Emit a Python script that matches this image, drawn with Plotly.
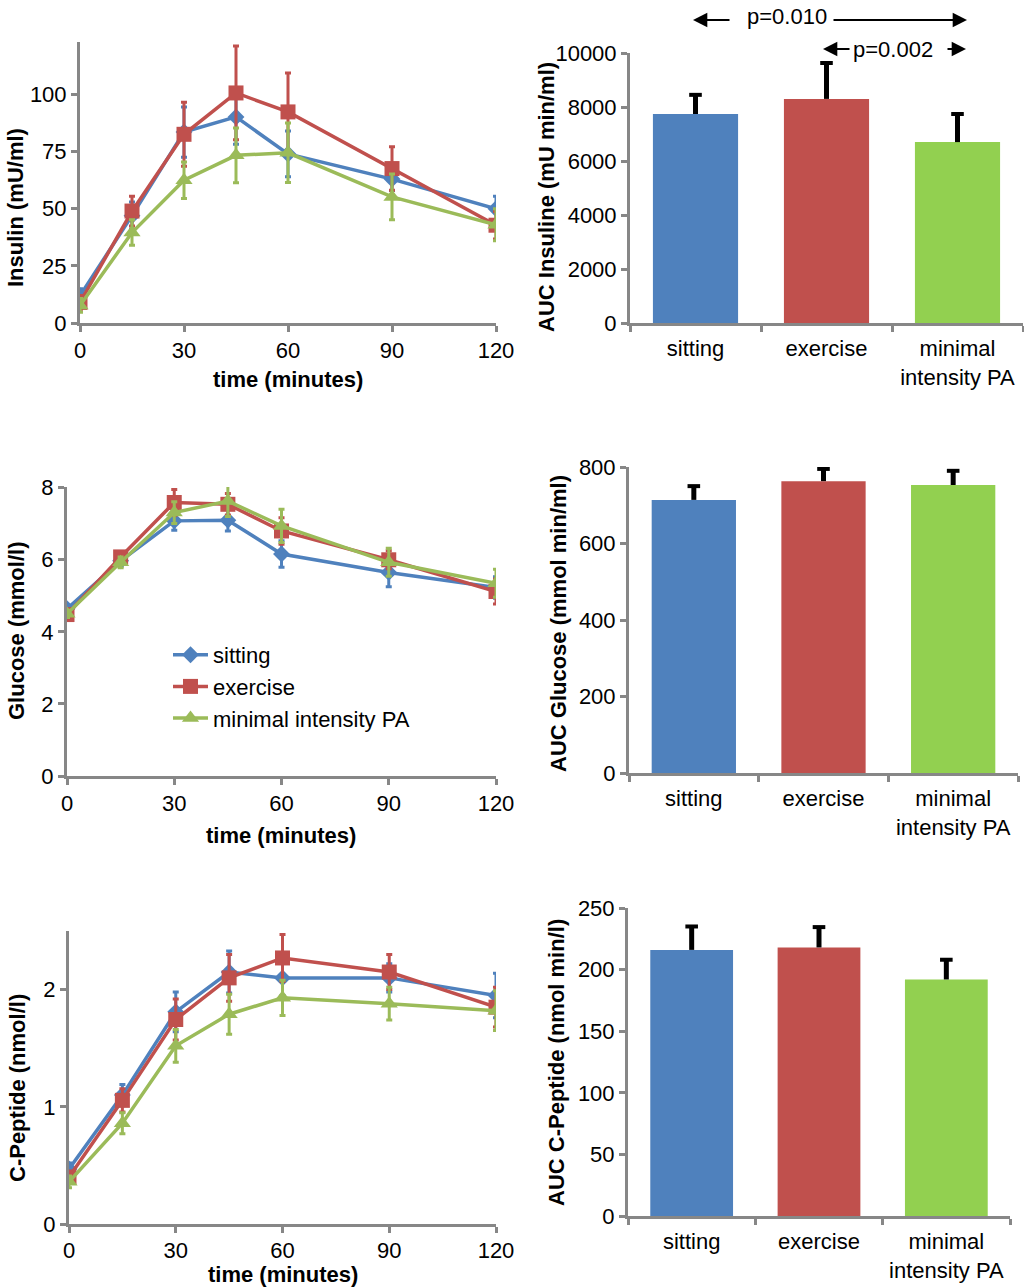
import plotly.graph_objects as go

W, H = 1024, 1288

# ---------------- data ----------------
time_min = [0, 15, 30, 45, 60, 90, 120]
series_names = ["sitting", "exercise", "minimal intensity PA"]
bar_categories = ["sitting", "exercise", "minimal<br>intensity PA"]

insulin_sitting = [12, 47, 83.6, 90.2, 74, 63, 50]
insulin_sitting_err = [3, 6, 11, 12, 10, 5, 5.5]
insulin_exercise = [9, 49, 82.6, 100.7, 92.4, 67.6, 42.8]
insulin_exercise_err = [3, 6.5, 14, 20.5, 17, 9.5, 6]
insulin_minimal = [7.7, 39.6, 62.5, 73.4, 74.5, 55.2, 43]
insulin_minimal_err = [3, 5.6, 8, 12, 13, 10, 7]

glucose_sitting = [4.64, 5.97, 7.08, 7.1, 6.16, 5.65, 5.23]
glucose_sitting_err = [0.1, 0.15, 0.26, 0.3, 0.37, 0.4, 0.3]
glucose_exercise = [4.48, 6.08, 7.59, 7.54, 6.8, 6.0, 5.12]
glucose_exercise_err = [0.1, 0.15, 0.36, 0.3, 0.37, 0.25, 0.35]
glucose_minimal = [4.5, 5.93, 7.31, 7.63, 6.94, 5.93, 5.35]
glucose_minimal_err = [0.1, 0.15, 0.3, 0.43, 0.46, 0.39, 0.39]

cpep_sitting = [0.47, 1.10, 1.81, 2.15, 2.10, 2.10, 1.95]
cpep_sitting_err = [0.05, 0.09, 0.17, 0.18, 0.15, 0.12, 0.19]
cpep_exercise = [0.40, 1.055, 1.745, 2.10, 2.27, 2.15, 1.85]
cpep_exercise_err = [0.05, 0.1, 0.175, 0.2, 0.2, 0.15, 0.17]
cpep_minimal = [0.36, 0.86, 1.52, 1.79, 1.93, 1.88, 1.82]
cpep_minimal_err = [0.05, 0.09, 0.14, 0.17, 0.15, 0.14, 0.17]

auc_insulin = [7740, 8300, 6700]
auc_insulin_err = [710, 1330, 1040]
auc_glucose = [714, 763, 753]
auc_glucose_err = [36, 32, 37]
auc_cpep = [216, 218, 192]
auc_cpep_err = [19, 16.5, 16]

insulin_ticks = [0, 25, 50, 75, 100]
time_ticks = [0, 30, 60, 90, 120]

# ---------------- styling ----------------
LINE_COLORS = ["#4F81BD", "#C0504D", "#9BBB59"]
BAR_COLORS = ["#4F81BD", "#C0504D", "#92D050"]
SYMBOLS = ["diamond", "square", "triangle-up"]
SIZES = [13, 15, 15]
AXIS_GRAY = "#878787"
FONT = "Arial, Liberation Sans, sans-serif"
TICK_SIZE = 22
TITLE_SIZE = 22


def xd(a, b):
    return [a / W, b / W]


def yd(top, bottom):
    return [1 - bottom / H, 1 - top / H]


fig = go.Figure()

line_sets = [
    ("x", "y", [insulin_sitting, insulin_exercise, insulin_minimal],
     [insulin_sitting_err, insulin_exercise_err, insulin_minimal_err], False),
    ("x3", "y3", [glucose_sitting, glucose_exercise, glucose_minimal],
     [glucose_sitting_err, glucose_exercise_err, glucose_minimal_err], True),
    ("x5", "y5", [cpep_sitting, cpep_exercise, cpep_minimal],
     [cpep_sitting_err, cpep_exercise_err, cpep_minimal_err], False),
]

for xa, ya, vals, errs, show in line_sets:
    for i in range(3):
        fig.add_trace(go.Scatter(
            x=time_min, y=vals[i], xaxis=xa, yaxis=ya,
            mode="lines+markers", name=series_names[i],
            legendgroup=series_names[i], showlegend=show,
            line=dict(color=LINE_COLORS[i], width=3.5),
            marker=dict(symbol=SYMBOLS[i], size=SIZES[i], color=LINE_COLORS[i]),
            error_y=dict(type="data", array=errs[i], visible=True,
                         color=LINE_COLORS[i], thickness=3, width=3),
        ))

bar_sets = [
    ("x2", "y2", auc_insulin, auc_insulin_err),
    ("x4", "y4", auc_glucose, auc_glucose_err),
    ("x6", "y6", auc_cpep, auc_cpep_err),
]
for xa, ya, vals, errs in bar_sets:
    fig.add_trace(go.Bar(
        x=bar_categories, y=vals, xaxis=xa, yaxis=ya, showlegend=False,
        marker=dict(color=BAR_COLORS, line=dict(width=0)),
        error_y=dict(type="data", array=errs, arrayminus=[0, 0, 0],
                     symmetric=False, color="black", thickness=5, width=0),
    ))
    # caps only at the top end of the one-sided error bars
    fig.add_trace(go.Scatter(
        x=bar_categories, y=[v + e for v, e in zip(vals, errs)],
        xaxis=xa, yaxis=ya, mode="markers", showlegend=False, hoverinfo="skip",
        marker=dict(symbol="line-ew", size=9, line=dict(color="black", width=4)),
    ))

axis_common = dict(
    showline=True, linecolor=AXIS_GRAY, linewidth=3,
    ticks="outside", ticklen=6, tickwidth=3, tickcolor=AXIS_GRAY,
    showgrid=False, zeroline=False, automargin=False,
    tickfont=dict(family=FONT, size=TICK_SIZE, color="black"),
)
bar_x_common = dict(type="category", range=[-0.5, 2.5], tickson="boundaries",
                    ticklabelstandoff=4)

layout_axes = {
    # insulin line
    "xaxis": dict(domain=xd(80, 496), anchor="y", range=[0, 120],
                  tickvals=time_ticks, **axis_common),
    "yaxis": dict(domain=yd(42, 323), anchor="x", range=[0, 123],
                  tickvals=insulin_ticks, **axis_common),
    # insulin bar
    "xaxis2": dict(domain=xd(630, 1023), anchor="y2", **bar_x_common, **axis_common),
    "yaxis2": dict(domain=yd(53, 323), anchor="x2", range=[0, 10000],
                   dtick=2000, tickformat="d", **axis_common),
    # glucose line
    "xaxis3": dict(domain=xd(67, 496), anchor="y3", range=[0, 120],
                   tickvals=time_ticks, **axis_common),
    "yaxis3": dict(domain=yd(487, 776), anchor="x3", range=[0, 8.02],
                   dtick=2, **axis_common),
    # glucose bar
    "xaxis4": dict(domain=xd(629, 1018), anchor="y4", **bar_x_common, **axis_common),
    "yaxis4": dict(domain=yd(467, 773), anchor="x4", range=[0, 800],
                   dtick=200, **axis_common),
    # c-peptide line
    "xaxis5": dict(domain=xd(69, 496), anchor="y5", range=[0, 120],
                   tickvals=time_ticks, ticklabelstandoff=-1, **axis_common),
    "yaxis5": dict(domain=yd(931, 1224), anchor="x5", range=[0, 2.5],
                   dtick=1, **axis_common),
    # c-peptide bar
    "xaxis6": dict(domain=xd(628, 1010), anchor="y6", **bar_x_common, **axis_common),
    "yaxis6": dict(domain=yd(908, 1216), anchor="x6", range=[0, 250],
                   dtick=50, **axis_common),
}

annotations = []


def title(text, cx, cy, angle=0):
    annotations.append(dict(
        text="<b>%s</b>" % text, x=cx / W, y=1 - cy / H, xref="paper", yref="paper",
        showarrow=False, textangle=angle, xanchor="center", yanchor="middle",
        font=dict(family=FONT, size=TITLE_SIZE, color="black"),
    ))


title("Insulin (mU/ml)", 16, 208, -90)
title("time (minutes)", 288, 380)
title("AUC Insuline (mU min/ml)", 546, 197, -90)
title("Glucose (mmol/l)", 17, 631, -90)
title("time (minutes)", 281, 835)
title("AUC Glucose (mmol min/ml)", 558, 624, -90)
title("C-Peptide (nmol/l)", 17, 1088, -90)
title("time (minutes)", 283, 1274)
title("AUC C-Peptide (nmol min/l)", 556, 1063, -90)

# p-value labels
for txt, cx, cy in [("p=0.010", 787, 16), ("p=0.002", 893, 49)]:
    annotations.append(dict(
        text=txt, x=cx / W, y=1 - cy / H, xref="paper", yref="paper",
        showarrow=False, xanchor="center", yanchor="middle",
        font=dict(family=FONT, size=TICK_SIZE, color="black"),
    ))

# arrows (head at x, tail at x+ax)
for head_x, tail_x, yy in [(693, 731, 20), (967, 832, 20), (823, 851, 49), (966, 946, 49)]:
    annotations.append(dict(
        text="", x=head_x / W, y=1 - yy / H, xref="paper", yref="paper",
        ax=tail_x - head_x, ay=0, axref="pixel", ayref="pixel",
        showarrow=True, arrowhead=2, arrowsize=1.3, arrowwidth=2.2,
        arrowcolor="black",
    ))

fig.update_layout(
    width=W, height=H,
    margin=dict(l=0, r=0, t=0, b=0, autoexpand=False),
    paper_bgcolor="white", plot_bgcolor="white",
    bargap=0.35,
    font=dict(family=FONT, size=TICK_SIZE, color="black"),
    showlegend=True,
    legend=dict(x=168 / W, y=1 - 634 / H, xanchor="left", yanchor="top",
                font=dict(family=FONT, size=TICK_SIZE, color="black"),
                bgcolor="rgba(0,0,0,0)", tracegroupgap=0,
                itemwidth=35),
    annotations=annotations,
    **layout_axes,
)

fig.write_html("out.html",
               config={"displayModeBar": False},
               post_script="document.body.style.margin='0px';"
                           "document.body.style.overflow='hidden';")
